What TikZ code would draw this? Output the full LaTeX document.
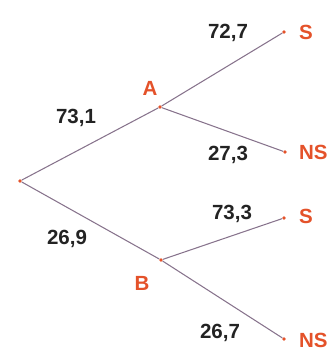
\documentclass[tikz,border=0pt]{standalone}
\usepackage{fontspec}
\setmainfont{Liberation Sans}
\usetikzlibrary{positioning}
\definecolor{tred}{RGB}{228,82,42}
\definecolor{tline}{RGB}{135,115,140}
\definecolor{tnum}{RGB}{35,35,35}
\tikzset{
    pt/.style={circle, fill=tred, inner sep=0pt, minimum size=3pt},
    branch/.style={draw=tline, line width=0.9pt},
    event/.style={text=tred, font=\fontsize{17.5}{19}\selectfont\bfseries},
    prob/.style={text=tnum, font=\fontsize{17.5}{19}\selectfont\bfseries}
}
\begin{document}
\begin{tikzpicture}[x=0.03cm, y=-0.03cm]
        \useasboundingbox (0,0) rectangle (334,357);
        % Points
        \node (root) [pt] at (20,181) {};
        \node (A) [pt] at (160,107) {};
        \node (B) [pt] at (161,260) {};
        \node (AS) [pt] at (284,32) {};
        \node (ANS) [pt] at (285,152) {};
        \node (BS) [pt] at (284,218) {};
        \node (BNS) [pt] at (284,339) {};

        % Branches
        \draw [branch] (root) -- (A);
        \draw [branch] (root) -- (B);
        \draw [branch] (A) -- (AS);
        \draw [branch] (A) -- (ANS);
        \draw [branch] (B) -- (BS);
        \draw [branch] (B) -- (BNS);

        % Events
        \node (labA) [event] at (150,88) {A};
        \node (labB) [event] at (142,283) {B};
        \node (labAS) [event, anchor=west] at (295,32) {S};
        \node (labANS) [event, anchor=west] at (295,152) {NS};
        \node (labBS) [event, anchor=west] at (295,216) {S};
        \node (labBNS) [event, anchor=west] at (295,340) {NS};

        % Probabilities
        \node (pA) [prob] at (76,118) {73,1};
        \node (pB) [prob] at (67,239) {26,9};
        \node (pAS) [prob] at (228,33) {72,7};
        \node (pANS) [prob] at (228,155) {27,3};
        \node (pBS) [prob] at (232,214) {73,3};
        \node (pBNS) [prob] at (220,333) {26,7};
    \end{tikzpicture}
\end{document}
